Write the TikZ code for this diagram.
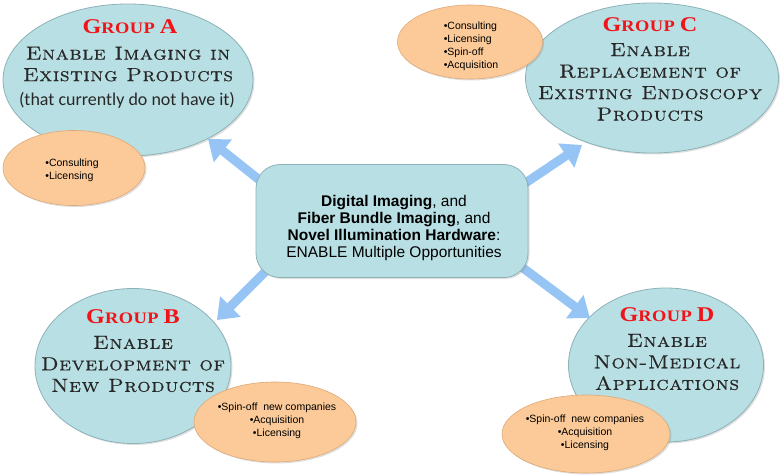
\documentclass[tikz,border=0pt]{standalone}
\usepackage{fontspec}
\newfontfamily\arialf{Liberation Sans}
\newfontfamily\calib{Carlito}
\newfontfamily\titlef[FakeStretch=1.15,LetterSpace=3]{Liberation Serif}
\newfontfamily\scf[FakeStretch=1.12,LetterSpace=3,FakeBold=0.6]{lmromancaps10-regular.otf}
\usetikzlibrary{shapes.geometric,arrows.meta,shadows}
\definecolor{cyanf}{RGB}{184,223,227}
\definecolor{cyand}{RGB}{140,178,184}
\definecolor{orangef}{RGB}{251,202,152}
\definecolor{oranged}{RGB}{222,168,118}
\definecolor{arrowc}{RGB}{150,196,244}
\definecolor{titlered}{RGB}{240,20,25}
\definecolor{bodyc}{RGB}{40,40,40}
\newcommand\grp[1]{{\fontsize{21}{21}\selectfont G}{\fontsize{16}{16}\selectfont ROUP\ }{\fontsize{21}{21}\selectfont #1}}
\tikzset{
  grpell/.style={ellipse, fill=cyanf, draw=cyand, line width=0.8pt, inner sep=0pt,
    drop shadow={opacity=0.25, shadow xshift=1.5pt, shadow yshift=-1.5pt}},
  oell/.style={ellipse, fill=orangef, draw=oranged, line width=0.6pt, inner sep=0pt,
    drop shadow={opacity=0.25, shadow xshift=1.5pt, shadow yshift=-1.5pt}},
  gtitle/.style={text=titlered, font=\titlef\bfseries, inner sep=0pt},
  gbody/.style={text=bodyc, font=\scf\fontsize{19}{21.5}\selectfont, align=center, inner sep=0pt},
  otext/.style={font=\arialf\fontsize{10.5}{13}\selectfont, inner sep=0pt},
  fatarrow/.style={draw=arrowc, line width=9pt, -{Triangle[width=28pt,length=19pt]}},
  cbox/.style={rectangle, rounded corners=24pt, fill=cyanf, draw=cyand, line width=0.8pt,
    minimum width=272pt, minimum height=113pt,
    drop shadow={opacity=0.25, shadow xshift=1.5pt, shadow yshift=-1.5pt}}
}
\begin{document}
\begin{tikzpicture}[x=1pt,y=-1pt]
\useasboundingbox (0,0) rectangle (780,476);
% group ellipses
\node[grpell, minimum width=250pt, minimum height=152pt] (gA) at (128,80) {};
\node[grpell, minimum width=253pt, minimum height=150pt] (gC) at (652,78) {};
\node[grpell, minimum width=196pt, minimum height=155pt] (gB) at (133,366) {};
\node[grpell, minimum width=195pt, minimum height=154pt] (gD) at (666,365) {};
% orange ellipses
\node[oell, minimum width=142pt, minimum height=75pt] (oA) at (74,168) {};
\node[oell, minimum width=145pt, minimum height=74pt] (oC) at (470,42) {};
\node[oell, minimum width=162pt, minimum height=80pt] (oB) at (275,422) {};
\node[oell, minimum width=168pt, minimum height=78pt] (oD) at (586,434) {};
% arrows
\coordinate (sA) at (272,190);
\coordinate (tA) at (208,139);
\coordinate (sC) at (515,190);
\coordinate (tC) at (582,145);
\coordinate (sB) at (275,262);
\coordinate (tB) at (217,320);
\coordinate (sD) at (515,262);
\coordinate (tD) at (590,318);
\draw[fatarrow] (sA) -- (tA);
\draw[fatarrow] (sC) -- (tC);
\draw[fatarrow] (sB) -- (tB);
\draw[fatarrow] (sD) -- (tD);
% central box
\node[cbox] (box) at (392,221) {};
\node[font=\arialf\fontsize{15.5}{17}\selectfont, align=center, inner sep=0pt] (boxt) at (394,228)
  {\textbf{Digital Imaging}, and\\ \textbf{Fiber Bundle Imaging}, and\\ \textbf{Novel Illumination Hardware}:\\ ENABLE Multiple Opportunities};
% group texts
\node[gtitle] (gAt) at (130,27) {\grp{A}};
\node[gbody] (gAb) at (128,64) {Enable Imaging in\\ Existing Products};
\node[font=\calib\fontsize{18}{18}\selectfont, text=bodyc, inner sep=0pt] (gAn) at (127,100) {(that currently do not have it)};
\node[gtitle] (gCt) at (650,25) {\grp{C}};
\node[gbody] (gCb) at (650,82) {Enable\\ Replacement of\\ Existing Endoscopy\\ Products};
\node[gtitle] (gBt) at (133,317) {\grp{B}};
\node[gbody] (gBb) at (133,364) {Enable\\ Development of\\ New Products};
\node[gtitle] (gDt) at (667,315) {\grp{D}};
\node[gbody] (gDb) at (667,362) {Enable\\ Non-Medical\\ Applications};
% orange texts
\node[otext, align=left] (oAt) at (72,170) {•Consulting\\ •Licensing};
\node[otext, align=left] (oCt) at (471,46) {•Consulting\\ •Licensing\\ •Spin-off\\ •Acquisition};
\node[otext, align=center] (oBt) at (277,421) {•Spin-off~ new companies\\ •Acquisition\\ •Licensing};
\node[otext, align=center] (oDt) at (585,433) {•Spin-off~ new companies\\ •Acquisition\\ •Licensing};
\end{tikzpicture}
\end{document}
